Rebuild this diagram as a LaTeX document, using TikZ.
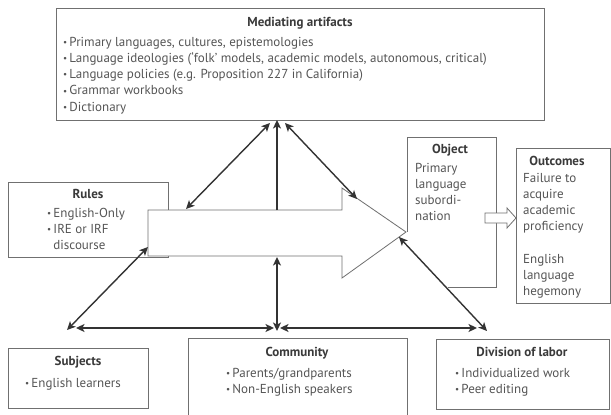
\documentclass[tikz,border=0pt]{standalone}
\usepackage{fontspec}
\setmainfont{PT Sans}
\usetikzlibrary{arrows.meta}
\definecolor{boxc}{HTML}{707070}
\definecolor{txtc}{HTML}{555555}
\definecolor{ttlc}{HTML}{3A3A3A}
\definecolor{arrc}{HTML}{333333}
\newcommand{\bul}{\raisebox{0.12ex}{\scalebox{0.7}{•}}\,}
\newcommand{\mylines}[1]{\begin{tabular}[t]{@{}l@{}}#1\end{tabular}}
\begin{document}
\begin{tikzpicture}[x=1pt,y=-1pt,
  >={Stealth[length=8.5pt,width=8pt,inset=2.2pt]},
  box/.style={draw=boxc,line width=0.9pt,inner sep=0pt,anchor=north west},
  ttl/.style={font=\fontsize{13}{16.3}\selectfont\bfseries,text=ttlc,inner sep=0pt,anchor=base},
  txt/.style={font=\fontsize{13}{16.3}\selectfont,text=txtc,inner sep=0pt,anchor=base west},
  dbl/.style={draw=arrc,line width=1.4pt,<->},
  sgl/.style={draw=arrc,line width=1.4pt,->},
]
\useasboundingbox (0,0) rectangle (611,415);
\fill[white] (0,0) rectangle (611,415);

% boxes
\node[box,minimum width=488pt,minimum height=112pt] (med) at (56,8) {};
\node[box,minimum width=160pt,minimum height=75pt] (rules) at (8,182) {};
\node[box,minimum width=94pt,minimum height=155pt] (outc) at (516,148) {};
\node[box,minimum width=140pt,minimum height=60pt] (subj) at (8,348) {};
\node[box,minimum width=219pt,minimum height=85pt] (comm) at (188,338) {};
\node[box,minimum width=173pt,minimum height=70pt] (div) at (436,339) {};

% object box (open at lower left)
\coordinate (objA) at (448,287);
\coordinate (objB) at (496,287);
\coordinate (objC) at (496,137);
\coordinate (objD) at (407,137);
\coordinate (objE) at (407,232);
\draw[draw=boxc,line width=0.9pt] (objA) -- (objB) -- (objC) -- (objD) -- (objE);

% big arrow
\draw[draw=boxc,line width=0.8pt,fill=white] (148,210) -- (342,210) -- (342,188) -- (406,232) -- (342,278) -- (342,256) -- (148,256) -- cycle;

% small hollow arrow
\draw[draw=boxc,line width=0.8pt,fill=white] (485,213) -- (507,213) -- (507,208) -- (516,218) -- (507,228) -- (507,223) -- (485,223) -- cycle;

% texts
\node[ttl] (medT) at (300,26) {Mediating artifacts};
\node[txt] (medL) at (63,46) {\mylines{\bul Primary languages, cultures, epistemologies\\
\bul Language ideologies (‘folk’ models, academic models, autonomous, critical)\\
\bul Language policies (e.g. Proposition 227 in California)\\
\bul Grammar workbooks\\
\bul Dictionary}};

\node[ttl] (rulT) at (88,198) {Rules};
\node[txt] (rulL) at (47,217) {\mylines{\bul English-Only\\ \bul IRE or IRF\\ \hphantom{\bul}discourse}};

\node[ttl] (objT) at (450,153) {Object};
\node[txt] (objL) at (415,172) {\mylines{Primary\\language\\subordi-\\nation}};

\node[ttl] (outT) at (557,165) {Outcomes};
\node[txt] (outL1) at (523,182) {\mylines{Failure to\\acquire\\academic\\proficiency}};
\node[txt] (outL2) at (523,263) {\mylines{English\\language\\hegemony}};

\node[ttl] (subT) at (78,365) {Subjects};
\node[txt] (subL) at (25,387) {\bul English learners};

\node[ttl] (comT) at (297,356) {Community};
\node[txt] (comL) at (226,377) {\mylines{\bul Parents/grandparents\\ \bul Non-English speakers}};

\node[ttl] (divT) at (522,356) {Division of labor};
\node[txt] (divL) at (455,377) {\mylines{\bul Individualized work\\ \bul Peer editing}};

% connector end points
\coordinate (mA) at (270,123);
\coordinate (mB) at (277,120);
\coordinate (mC) at (285,123);
\coordinate (aL) at (186,209);
\coordinate (aT) at (277,210);
\coordinate (aR) at (357,199);
\coordinate (aBL) at (148,247);
\coordinate (aB) at (277,257);
\coordinate (aTip) at (399,237);
\coordinate (sN) at (67,330);
\coordinate (sE) at (76,328);
\coordinate (cW) at (274,328);
\coordinate (cN) at (277,331);
\coordinate (cE) at (280,328);
\coordinate (dW) at (477,328);
\coordinate (dN) at (487,331);

\draw[dbl] (aL) -- (mA);
\draw[sgl] (aT) -- (mB);
\draw[dbl] (mC) -- (aR);
\draw[dbl] (aBL) -- (sN);
\draw[dbl] (aB) -- (cN);
\draw[dbl] (sE) -- (cW);
\draw[dbl] (cE) -- (dW);
\draw[dbl] (aTip) -- (dN);
\end{tikzpicture}
\end{document}
